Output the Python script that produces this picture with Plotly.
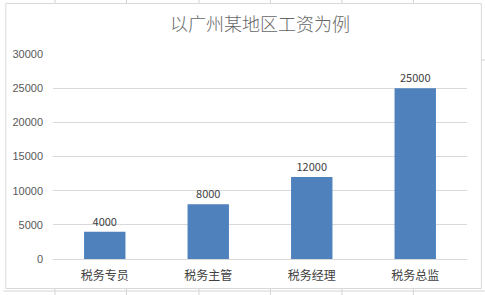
import plotly.graph_objects as go

categories = ["税务专员", "税务主管", "税务经理", "税务总监"]
salaries = [4000, 8000, 12000, 25000]
tick_vals = [0, 5000, 10000, 15000, 20000, 25000, 30000]

W, H = 485, 295
L, R, T, B = 50, 18, 54, 36
pw, ph = W - L - R, H - T - B

def px(x):
    return (x - L) / pw

def py(y):
    return (H - B - y) / ph

fig = go.Figure(go.Bar(
    x=categories, y=salaries,
    marker=dict(color="#4F81BD", line=dict(width=0)),
    text=[str(v) for v in salaries], textposition="outside",
    textfont=dict(size=11, color="#404040", family="Noto Sans CJK SC"),
    cliponaxis=False,
))

shapes = []
grid_col = "#d4d4d4"
for cx in [52, 124, 197, 269, 341, 413]:
    shapes.append(dict(type="line", xref="paper", yref="paper", x0=px(cx), x1=px(cx), y0=py(0), y1=py(3), line=dict(color=grid_col, width=1), layer="below"))
    shapes.append(dict(type="line", xref="paper", yref="paper", x0=px(cx), x1=px(cx), y0=py(289), y1=py(295), line=dict(color=grid_col, width=1), layer="below"))
shapes.append(dict(type="line", xref="paper", yref="paper", x0=px(0), x1=px(485), y0=py(291), y1=py(291), line=dict(color=grid_col, width=1), layer="below"))
shapes.append(dict(type="line", xref="paper", yref="paper", x0=px(481), x1=px(485), y0=py(60), y1=py(60), line=dict(color=grid_col, width=1), layer="below"))
shapes.append(dict(type="rect", xref="paper", yref="paper", x0=px(2.5), x1=px(481.5), y0=py(3.5), y1=py(288.5), line=dict(color="#d9d9d9", width=1), fillcolor="rgba(0,0,0,0)", layer="below"))

fig.update_layout(
    width=W, height=H,
    margin=dict(l=L, r=R, t=T, b=B),
    paper_bgcolor="white", plot_bgcolor="white",
    bargap=0.6,
    showlegend=False,
    shapes=shapes,
    title=dict(text="以广州某地区工资为例", x=0.5, xref="paper", xanchor="center", y=1 - 25 / H, yanchor="middle",
               font=dict(size=18, color="#666666", family="Noto Sans CJK SC", weight=300)),
    font=dict(family="Noto Sans CJK SC"),
    xaxis=dict(showgrid=False, showline=True, linecolor="#d9d9d9", linewidth=1, ticks="",
               ticklabelstandoff=6,
               tickfont=dict(size=12, color="#404040"), fixedrange=True),
    yaxis=dict(range=[0, 30000], tickvals=tick_vals, ticktext=[str(v) for v in tick_vals],
               showgrid=True, gridcolor="#d9d9d9", gridwidth=1, zeroline=False, showline=False,
               ticks="", ticklabelstandoff=9, tickfont=dict(size=11, color="#595959", family="Liberation Sans")),
)

fig.write_html("out.html")
